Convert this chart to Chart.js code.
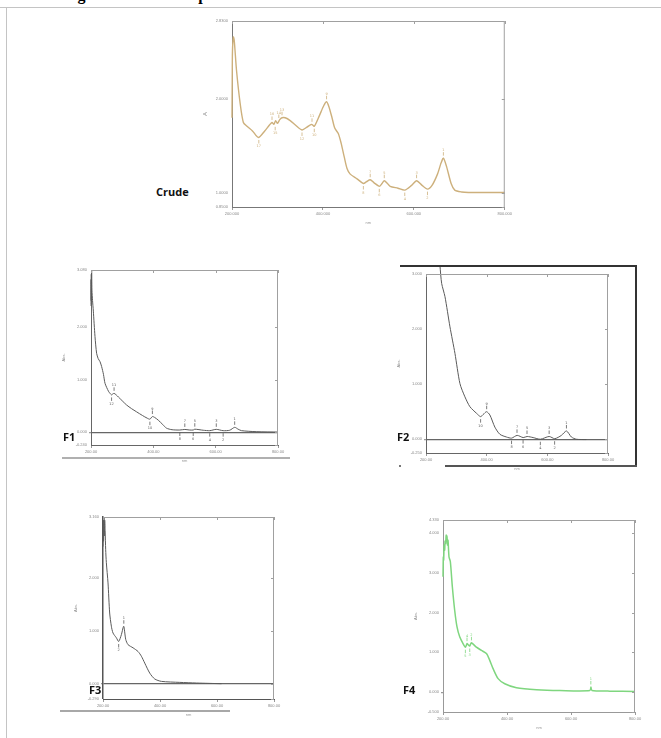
<!DOCTYPE html>
<html>
<head>
<meta charset="utf-8">
<script src="https://cdn.jsdelivr.net/npm/chart.js@4/dist/chart.umd.min.js"></script>
<style>
  body { margin: 0; width: 661px; height: 738px; background: #fff; position: relative; overflow: hidden; font-family: "Open Sans", "Liberation Sans", sans-serif; }
  .box { position: absolute; }
  .lbl { position: absolute; font-weight: bold; font-size: 11px; color: #111; line-height: 12px; }
  .rule { position: absolute; }
  #caption { position: absolute; left: 62px; top: -14px; line-height: 18px; font: bold 16px "Liberation Serif", "DejaVu Serif", serif; white-space: nowrap; color: #000; letter-spacing: 0.6px; }
</style>
</head>
<body>
<div id="caption">Figure 3: UV-Vis spectra of crude extract and fractions</div>
<div class="rule" style="left:0;top:7px;width:661px;height:1px;background:#c4c4c4"></div>
<div class="rule" style="left:6px;top:7px;width:1px;height:731px;background:#c4c4c4"></div>

<div class="box" id="crude"></div>
<div class="box" id="f1"></div>
<div class="box" id="f2"></div>
<div class="box" id="f3"></div>
<div class="box" id="f4"></div>

<!-- page decorations around the pasted spectra -->
<div class="rule" style="left:62px;top:457px;width:228px;height:2px;background:#b0b0b0"></div>
<div class="rule" style="left:400px;top:265px;width:237px;height:2px;background:#333"></div>
<div class="rule" style="left:635px;top:265px;width:2px;height:202px;background:#333"></div>
<div class="rule" style="left:445px;top:465px;width:192px;height:2px;background:#555"></div>
<div class="rule" style="left:399px;top:465px;width:2px;height:2px;background:#777"></div>
<div class="rule" style="left:60px;top:710px;width:170px;height:2px;background:#a8a8a8"></div>

<div class="lbl" style="left:156px;top:186px">Crude</div>
<div class="lbl" style="left:63px;top:431px">F1</div>
<div class="lbl" style="left:397px;top:431px">F2</div>
<div class="lbl" style="left:89px;top:684px">F3</div>
<div class="lbl" style="left:403px;top:684px">F4</div>

<script>
// wavelength (nm) / absorbance
const crudeX = [200,200.5,201,203,205,210,218,225,233,245,258,272,282,288,292,296,300,305,310,317,328,340,354,365,375,381,392,402,408,413,420,426,434,440,447,453,460,475,489,496,504,512,524,530,535,542,548,565,580,595,606,618,630,640,652,660,665,672,682,690,705,720,800];
const crudeY = [1.80,2.20,2.50,2.66,2.62,2.30,1.95,1.75,1.71,1.66,1.59,1.66,1.72,1.75,1.73,1.77,1.74,1.78,1.80,1.80,1.77,1.72,1.67,1.70,1.73,1.71,1.82,1.93,1.97,1.92,1.80,1.69,1.63,1.53,1.38,1.26,1.20,1.15,1.10,1.12,1.14,1.11,1.07,1.10,1.13,1.10,1.07,1.05,1.03,1.08,1.13,1.08,1.04,1.08,1.20,1.32,1.37,1.28,1.10,1.03,1.01,1.005,1.005];

const f1X = [200,200.3,200.6,201,201.5,202,203,205,207.5,212.8,218,223,229,234,240,245,256,261,266,270,274,281,288,300,314,330,346,365,380,389,397,405,416,430,442,460,485,501,515,528,533,560,581,602,624,645,661,672,683,730,800];
const f1Y = [2.40,2.9,2.5,3.0,2.6,3.08,2.7,2.5,2.3,1.82,1.50,1.40,1.34,1.25,1.10,0.93,0.78,0.74,0.71,0.73,0.74,0.71,0.67,0.60,0.52,0.45,0.39,0.32,0.27,0.25,0.30,0.28,0.23,0.15,0.08,0.05,0.044,0.055,0.045,0.044,0.06,0.04,0.032,0.057,0.032,0.04,0.095,0.06,0.032,0.013,0.006];

const f2X = [246,251.6,262.5,279,295.4,311.9,328.3,344.8,366.7,380,388.7,399.6,410.6,427,443.5,465.4,482,500.5,520.3,533.5,553.2,577.3,606,624.5,646.4,663,679.4,695.8,728.7];
const f2Y = [3.15,2.83,2.59,2.04,1.56,1.01,0.77,0.59,0.47,0.41,0.45,0.50,0.44,0.22,0.09,0.04,0.02,0.07,0.03,0.05,0.03,0.0,0.05,0.01,0.07,0.15,0.04,0.0,-0.006];

const f3X = [200,201,202,203.5,205,206,207.5,209.4,211.7,217.6,223.4,229.3,235.2,246.9,255.1,264.5,272.7,279.7,287.9,305.5,323,334.8,346.5,364.1,381.6,405.1,469.5,528.1,616];
const f3Y = [2.6,3.1,2.7,3.15,2.8,3.1,2.9,2.54,2.3,1.91,1.34,1.09,0.96,0.87,0.80,0.93,1.09,0.84,0.74,0.68,0.61,0.52,0.39,0.20,0.089,0.044,0.025,0.013,0.0];

const f4X = [200,201,202.1,203.5,205.2,206.5,208.3,210,212.5,214,215.7,218.8,223,229.2,236.5,243.8,252.2,262.6,269.9,275.1,279,283.5,288.7,304.3,320,335.7,346.1,356.5,372.2,393,429.6,492.2,565.2,659.1,662.3,665.4,721.7,800];
const f4Y = [2.9,3.4,3.32,3.7,3.57,3.8,3.74,3.95,3.91,3.7,3.82,3.40,3.28,2.65,2.06,1.64,1.39,1.22,1.13,1.22,1.19,1.16,1.24,1.13,1.05,0.97,0.80,0.59,0.34,0.21,0.11,0.06,0.04,0.04,0.13,0.04,0.025,0.017];

// picked peaks / valleys (dir 1 = peak, -1 = valley)
const crudePeakX = [259,288,295,303,310,354,376,381,408,489,504,524,535,580,606,630,665];
const crudePeakY = [1.59,1.75,1.73,1.77,1.80,1.67,1.73,1.71,1.97,1.10,1.14,1.07,1.13,1.03,1.13,1.04,1.37];
const crudePeakDir = [-1,1,-1,1,1,-1,1,-1,1,-1,1,-1,1,-1,1,-1,1];
const f1PeakX = [266,274,389,397,485,501,528,533,581,602,624,661];
const f1PeakY = [0.71,0.74,0.25,0.30,0.044,0.055,0.044,0.06,0.032,0.057,0.032,0.095];
const f1PeakDir = [-1,1,-1,1,-1,1,-1,1,-1,1,-1,1];
const f2PeakX = [380,400,482,500,520,533,577,606,624,663];
const f2PeakY = [0.41,0.50,0.02,0.07,0.03,0.05,0.0,0.05,0.01,0.15];
const f2PeakDir = [-1,1,-1,1,-1,1,-1,1,-1,1];
const f3PeakX = [255,273];
const f3PeakY = [0.80,1.09];
const f3PeakDir = [-1,1];
const f4PeakX = [270,275,283.5,289,662];
const f4PeakY = [1.13,1.22,1.16,1.24,0.13];
const f4PeakDir = [-1,1,-1,1,1];

// axis ticks
const xTicks = [200, 400, 600, 800];
const crudeYTicks = [0.85, 1, 2, 2.83];
const f1YTicks = [-0.24, 0, 1, 2, 3.08];
const f2YTicks = [-0.25, 0, 1, 2, 3];
const f3YTicks = [-0.29, 0, 1, 2, 3.16];
const f4YTicks = [-0.5, 0, 1, 2, 3, 4, 4.33];

const zip = (xs, ys) => xs.map((x, i) => ({ x, y: ys[i] }));

// light frame on top/right + peak pick marks
const framePlugin = {
  id: 'frame',
  afterDraw(chart) {
    const { ctx, chartArea: a, scales } = chart;
    ctx.save();
    ctx.strokeStyle = '#a0a0a0';
    ctx.lineWidth = 1;
    ctx.beginPath();
    ctx.moveTo(a.left, a.top + 0.5);
    ctx.lineTo(a.right - 0.5, a.top + 0.5);
    ctx.lineTo(a.right - 0.5, a.bottom);
    scales.x.ticks.forEach(t => {
      const p = Math.round(scales.x.getPixelForValue(t.value)) + 0.5;
      ctx.moveTo(p, a.top); ctx.lineTo(p, a.top + 3);
    });
    scales.y.ticks.forEach(t => {
      const p = Math.round(scales.y.getPixelForValue(t.value)) + 0.5;
      ctx.moveTo(a.right, p); ctx.lineTo(a.right - 3, p);
    });
    ctx.stroke();

    const ds = chart.data.datasets[1];
    const meta = chart.getDatasetMeta(1);
    ctx.strokeStyle = ds.borderColor;
    ctx.fillStyle = ds.borderColor;
    ctx.font = '3.5px "DejaVu Sans"';
    ctx.textAlign = 'center';
    ctx.lineWidth = 0.8;
    meta.data.forEach((pt, i) => {
      const d = ds.dir[i];
      ctx.beginPath();
      ctx.moveTo(pt.x, pt.y - d * 2.5);
      ctx.lineTo(pt.x, pt.y - d * 6);
      ctx.stroke();
      ctx.fillText(String(ds.dir.length - i), pt.x, d > 0 ? pt.y - 7 : pt.y + 10);
    });
    ctx.restore();
  }
};

function spectrum(id, area, xs, ys, px, py, pdir, yTicks, o) {
  const [L, T, R, B] = area;
  const yw = 30, xh = 18, pt = 8, pr = 8;
  const W = yw + (R - L) + pr, H = pt + (B - T) + xh;
  const wrap = document.getElementById(id);
  wrap.style.left = (L - yw) + 'px';
  wrap.style.top = (T - pt) + 'px';
  const cv = document.createElement('canvas');
  cv.width = W; cv.height = H;
  cv.style.width = W + 'px'; cv.style.height = H + 'px';
  wrap.appendChild(cv);

  new Chart(cv, {
    type: 'line',
    data: {
      datasets: [{
        data: zip(xs, ys),
        borderColor: o.color,
        borderWidth: o.width,
        pointRadius: 0,
        tension: 0.25,
        clip: o.clip === false ? false : 2
      }, {
        data: zip(px, py),
        dir: pdir,
        showLine: false,
        pointRadius: 0,
        borderColor: o.color
      }]
    },
    options: {
      responsive: false,
      animation: false,
      events: [],
      layout: { padding: { top: pt, right: pr, left: 0, bottom: 0 } },
      plugins: { legend: { display: false }, tooltip: { enabled: false } },
      scales: {
        x: {
          type: 'linear', min: 200, max: 800,
          afterBuildTicks: ax => { ax.ticks = xTicks.map(v => ({ value: v })); },
          afterFit: ax => { ax.height = xh; },
          ticks: { font: { size: 4 }, color: '#888', padding: 1, maxRotation: 0, callback: v => v.toFixed(o.xdec) },
          grid: { drawOnChartArea: false, tickLength: 3, color: '#999' },
          border: { color: o.axis, width: 1 },
          title: { display: true, text: 'nm', font: { size: 4 }, color: '#999', padding: 0 }
        },
        y: {
          type: 'linear', min: yTicks[0], max: yTicks[yTicks.length - 1],
          afterBuildTicks: ax => { ax.ticks = yTicks.map(v => ({ value: v })); },
          afterFit: ax => { ax.width = yw; },
          ticks: { font: { size: 4 }, color: '#888', padding: 2, callback: v => v.toFixed(o.ydec) },
          grid: {
            drawOnChartArea: true, tickLength: 2, tickColor: '#999',
            color: c => (o.zero && c.tick && c.tick.value === 0) ? '#666' : 'rgba(0,0,0,0)',
            lineWidth: c => (c.tick && c.tick.value === 0) ? 1.2 : 0
          },
          border: { color: o.axis, width: o.axisWidth || 1 },
          title: { display: true, text: o.ytitle, font: { size: o.ytsize || 4 }, color: '#888', padding: 0 }
        }
      }
    },
    plugins: [framePlugin]
  });
}

spectrum('crude', [232, 21, 505, 207], crudeX, crudeY, crudePeakX, crudePeakY, crudePeakDir, crudeYTicks,
  { color: '#cdb07c', width: 1.4, axis: '#777', xdec: 3, ydec: 4, ytitle: 'A', ytsize: 6 });
spectrum('f1', [91, 270, 278, 445], f1X, f1Y, f1PeakX, f1PeakY, f1PeakDir, f1YTicks,
  { color: '#5a5a5a', width: 1, axis: '#666', xdec: 2, ydec: 3, ytitle: 'Abs.', zero: true });
spectrum('f2', [426, 274, 608, 453], f2X, f2Y, f2PeakX, f2PeakY, f2PeakDir, f2YTicks,
  { color: '#5a5a5a', width: 1, axis: '#666', xdec: 2, ydec: 3, ytitle: 'Abs.', zero: true, clip: false });
spectrum('f3', [103, 517, 274, 699], f3X, f3Y, f3PeakX, f3PeakY, f3PeakDir, f3YTicks,
  { color: '#5a5a5a', width: 1, axis: '#555', axisWidth: 1.5, xdec: 2, ydec: 3, ytitle: 'Abs.', zero: true });
spectrum('f4', [443, 520, 635, 712], f4X, f4Y, f4PeakX, f4PeakY, f4PeakDir, f4YTicks,
  { color: '#7fd67f', width: 1.5, axis: '#999', xdec: 2, ydec: 3, ytitle: 'Abs.' });
</script>
</body>
</html>
